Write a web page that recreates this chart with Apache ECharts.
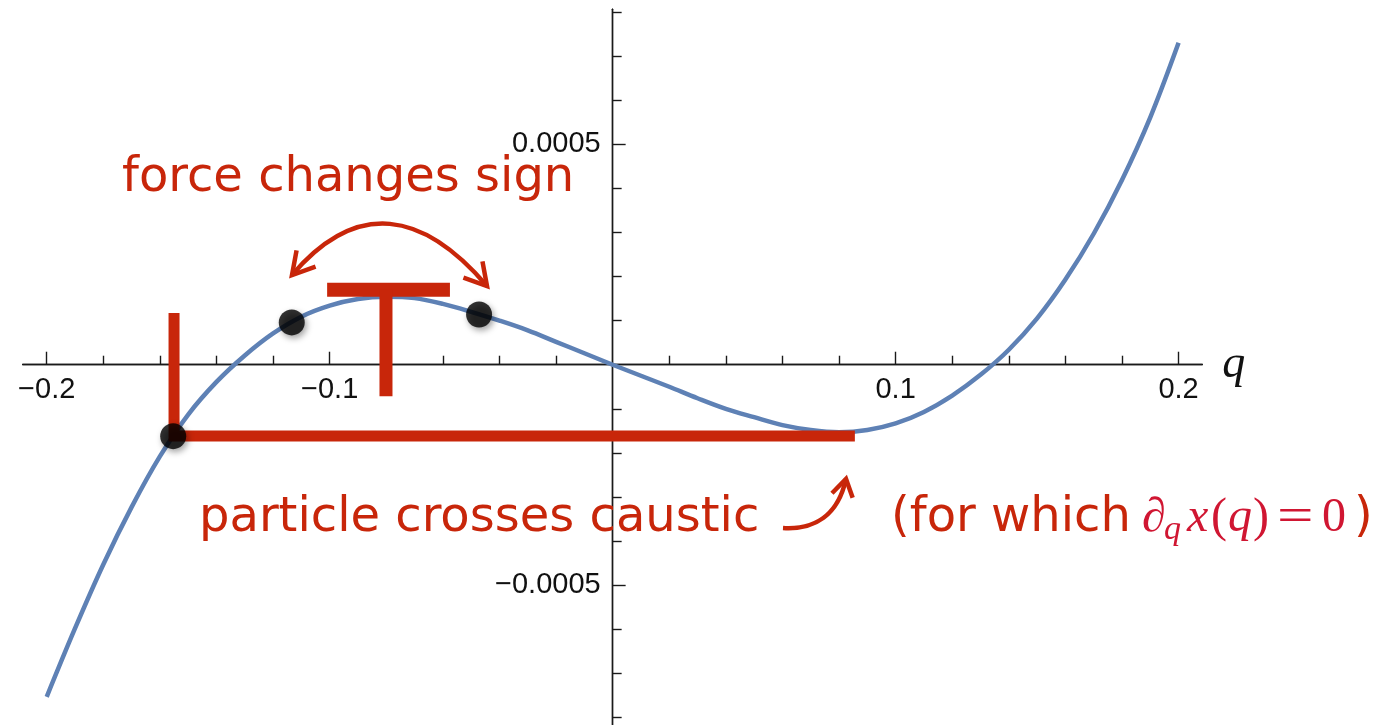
<!DOCTYPE html>
<html>
<head>
<meta charset="utf-8">
<script src="https://cdn.jsdelivr.net/npm/echarts@6/dist/echarts.min.js"></script>
<style>
  html, body { margin: 0; padding: 0; background: #ffffff; }
  #chart { width: 1378px; height: 725px; }
</style>
</head>
<body>
<div id="chart"></div>
<script>
// Lagrangian map x(q) sampled along q
const qValues = [
  -0.20, -0.19, -0.18, -0.17, -0.16, -0.15, -0.14, -0.13, -0.12, -0.11,
  -0.10, -0.09, -0.08, -0.07, -0.06, -0.05, -0.04, -0.03, -0.02, -0.01,
   0.00,  0.01,  0.02,  0.03,  0.04,  0.05,  0.06,  0.07,  0.08,  0.09,
   0.10,  0.11,  0.12,  0.13,  0.14,  0.15,  0.16,  0.17,  0.18,  0.19, 0.20
];
const xOfQ = [
  -0.000753, -0.000598, -0.000453, -0.000323, -0.000208, -0.000113, -0.000039, 0.000021, 0.000071, 0.000109,
   0.000134,  0.000149,  0.000154,  0.000151,  0.000138,  0.000120,  0.000100, 0.000078, 0.000052, 0.000026,
   0.000000, -0.000025, -0.000050, -0.000076, -0.000100, -0.000119, -0.000137, -0.000148, -0.000153, -0.000148,
  -0.000133, -0.000107, -0.000070, -0.000023,  0.000034,  0.000105,  0.000193,  0.000297,  0.000419,  0.000561, 0.000730
];

// highlighted particles on the curve
const markedQ = [-0.1553, -0.1134, -0.0472];
const markedX = [-0.000162, 0.000096, 0.000114];

// caustic crossing (L-shape) and force sign change (T-shape)
const crossingQ = -0.1550;
const crossingLevel = -0.0001615;
const crossingTop = 0.0001175;
const causticQ = 0.0856;
const turnQ = -0.0801;
const turnTop = 0.000170;
const turnBottom = -0.0000714;
const turnBar = [-0.1009, -0.0575];

// axis ticks
const xTickLabels = [-0.2, -0.1, 0.1, 0.2];
const xMinorTicks = [-0.18, -0.16, -0.14, -0.12, -0.08, -0.06, -0.04, -0.02,
                      0.02, 0.04, 0.06, 0.08, 0.12, 0.14, 0.16, 0.18];
const yTickLabels = [0.0005, -0.0005];
const yMinorTicks = [0.0008, 0.0007, 0.0006, 0.0004, 0.0003, 0.0002, 0.0001,
                     -0.0001, -0.0002, -0.0003, -0.0004, -0.0006, -0.0007, -0.0008];

const RED = '#c8260a';
const MATH_RED = '#d01632';
const AXIS = '#1a1a1a';
const BLUE = '#5e81b5';

const fmt = v => (v < 0 ? '\u2212' + Math.abs(v) : String(v));

const X_MIN = -0.2085, X_MAX = 0.2084;
const Y_MIN = -0.000817, Y_MAX = 0.000806;
const GRID = { left: 22.65, top: 9.3, width: 1179.7, height: 715.7 };

// axes cross at the origin: shift each axis from the grid edge to the zero line
const xAxisShift = -GRID.height * (0 - Y_MIN) / (Y_MAX - Y_MIN);
const yAxisShift = -GRID.width * (0 - X_MIN) / (X_MAX - X_MIN);

function xAxisDef(ticks, len, labels) {
  return {
    type: 'value', position: 'bottom', offset: xAxisShift, min: X_MIN, max: X_MAX,
    axisLine: { show: true, onZero: false, lineStyle: { color: AXIS, width: 1.4 } },
    axisTick: { show: true, inside: true, length: len, customValues: ticks,
                lineStyle: { color: AXIS, width: 1.4 } },
    axisLabel: labels ? {
      show: true, customValues: labels, formatter: fmt, margin: 11,
      fontFamily: 'Liberation Sans', fontSize: 29, color: '#111'
    } : { show: false },
    splitLine: { show: false }
  };
}
function yAxisDef(ticks, len, labels) {
  return {
    type: 'value', position: 'left', offset: yAxisShift, min: Y_MIN, max: Y_MAX,
    axisLine: { show: true, onZero: false, lineStyle: { color: AXIS, width: 1.4 } },
    axisTick: { show: true, inside: true, length: len, customValues: ticks,
                lineStyle: { color: AXIS, width: 1.4 } },
    axisLabel: labels ? {
      show: true, customValues: labels, formatter: fmt, margin: 12,
      fontFamily: 'Liberation Sans', fontSize: 29, color: '#111'
    } : { show: false },
    splitLine: { show: false }
  };
}

const xMain = xAxisDef(xTickLabels, 13, xTickLabels);
xMain.name = 'q';
xMain.nameLocation = 'end';
xMain.nameGap = 20;
xMain.nameTextStyle = {
  fontFamily: 'Liberation Serif', fontStyle: 'italic', fontSize: 46,
  color: '#111', verticalAlign: 'middle', padding: [0, 0, 14, 0]
};

// open arrow head: two wings behind the tip
function arrowHead(tip, dir, len, half) {
  const n = Math.hypot(dir[0], dir[1]);
  const bx = -dir[0] / n, by = -dir[1] / n;
  const a = half * Math.PI / 180, c = Math.cos(a), s = Math.sin(a);
  const w1 = [tip[0] + len * (bx * c - by * s), tip[1] + len * (bx * s + by * c)];
  const w2 = [tip[0] + len * (bx * c + by * s), tip[1] + len * (-bx * s + by * c)];
  return {
    type: 'polyline', z: 20,
    shape: { points: [w1, tip, w2] },
    style: { stroke: RED, lineWidth: 4.5, fill: null, lineJoin: 'miter', lineCap: 'butt' }
  };
}

const swapArc = { x1: 292, y1: 275, cpx1: 357, cpy1: 199, cpx2: 423, cpy2: 211, x2: 487, y2: 286 };
const causticArc = { x1: 783, y1: 528, cpx1: 815, cpy1: 530, cpx2: 838, cpy2: 515, x2: 846, y2: 479 };

const textItem = (text, x, y, size, family, color, italic, sx) => ({
  type: 'text', x: x, y: y, z: 20, scaleX: sx || 1,
  style: {
    text: text, fill: color,
    font: (italic ? 'italic ' : '') + size + 'px ' + family,
    textAlign: 'left', textVerticalAlign: 'middle'
  }
});
const SANS = '"DejaVu Sans"';
const SERIF = '"Liberation Serif"';

const graphics = [
  textItem('force changes sign', 122, 178.4, 48, SANS, RED, false),
  textItem('particle crosses caustic', 199, 518.4, 48, SANS, RED, false),
  textItem('(for which', 891, 518.4, 48, SANS, RED, false),
  textItem('\u2202', 1142, 518.8, 48, SERIF, MATH_RED, true),
  textItem('q', 1164, 530.5, 34, SERIF, MATH_RED, true),
  textItem('x', 1187, 518.8, 48, SERIF, MATH_RED, true),
  textItem('(', 1211, 518.8, 48, SERIF, MATH_RED, false),
  textItem('q', 1228, 518.8, 48, SERIF, MATH_RED, true),
  textItem(')', 1253, 518.8, 48, SERIF, MATH_RED, false),
  textItem('=', 1277, 518.8, 48, SERIF, MATH_RED, false, 1.35),
  textItem('0', 1322, 518.8, 48, SERIF, MATH_RED, false),
  textItem(')', 1354, 518.4, 48, SANS, RED, false),
  { type: 'bezierCurve', z: 20, shape: swapArc,
    style: { stroke: RED, lineWidth: 4.5, fill: null } },
  arrowHead([swapArc.x1, swapArc.y1], [swapArc.x1 - swapArc.cpx1, swapArc.y1 - swapArc.cpy1], 25, 30),
  arrowHead([swapArc.x2, swapArc.y2], [swapArc.x2 - swapArc.cpx2, swapArc.y2 - swapArc.cpy2], 25, 30),
  { type: 'bezierCurve', z: 20, shape: causticArc,
    style: { stroke: RED, lineWidth: 4.5, fill: null } },
  arrowHead([causticArc.x2, causticArc.y2], [causticArc.x2 - causticArc.cpx2, causticArc.y2 - causticArc.cpy2], 20, 32)
];

const chart = echarts.init(document.getElementById('chart'), null, { renderer: 'canvas' });
chart.setOption({
  animation: false,
  backgroundColor: '#ffffff',
  grid: Object.assign({ containLabel: false, outerBoundsMode: 'none' }, GRID),
  xAxis: [xMain, xAxisDef(xMinorTicks, 9, null)],
  yAxis: [yAxisDef(yTickLabels, 13, yTickLabels), yAxisDef(yMinorTicks, 9, null)],
  series: [
    {
      name: 'x(q)', type: 'line', xAxisIndex: 0, yAxisIndex: 0,
      data: qValues.map((q, i) => [q, xOfQ[i]]),
      showSymbol: false, smooth: 0.35, z: 2, silent: true,
      lineStyle: { color: BLUE, width: 4.5 }
    },
    {
      name: 'crossing', type: 'line', xAxisIndex: 0, yAxisIndex: 0,
      data: [[crossingQ, crossingTop], [crossingQ, crossingLevel], [causticQ, crossingLevel]],
      showSymbol: false, symbol: 'none', z: 3, silent: true,
      lineStyle: { color: RED, width: 11, cap: 'butt', join: 'miter' }
    },
    {
      name: 'turn bar', type: 'line', xAxisIndex: 0, yAxisIndex: 0,
      data: [[turnBar[0], turnTop], [turnBar[1], turnTop]],
      showSymbol: false, symbol: 'none', z: 3, silent: true,
      lineStyle: { color: RED, width: 14, cap: 'butt' }
    },
    {
      name: 'turn stem', type: 'line', xAxisIndex: 0, yAxisIndex: 0,
      data: [[turnQ, turnTop], [turnQ, turnBottom]],
      showSymbol: false, symbol: 'none', z: 3, silent: true,
      lineStyle: { color: RED, width: 13, cap: 'butt' }
    },
    {
      name: 'particles', type: 'scatter', xAxisIndex: 0, yAxisIndex: 0,
      data: markedQ.map((q, i) => [q, markedX[i]]),
      symbol: 'circle', symbolSize: 26, z: 4, silent: true,
      itemStyle: {
        color: '#000000', shadowBlur: 6, shadowColor: 'rgba(0,0,0,0.45)',
        shadowOffsetX: 2, shadowOffsetY: 3
      }
    }
  ],
  graphic: graphics
});
</script>
</body>
</html>
